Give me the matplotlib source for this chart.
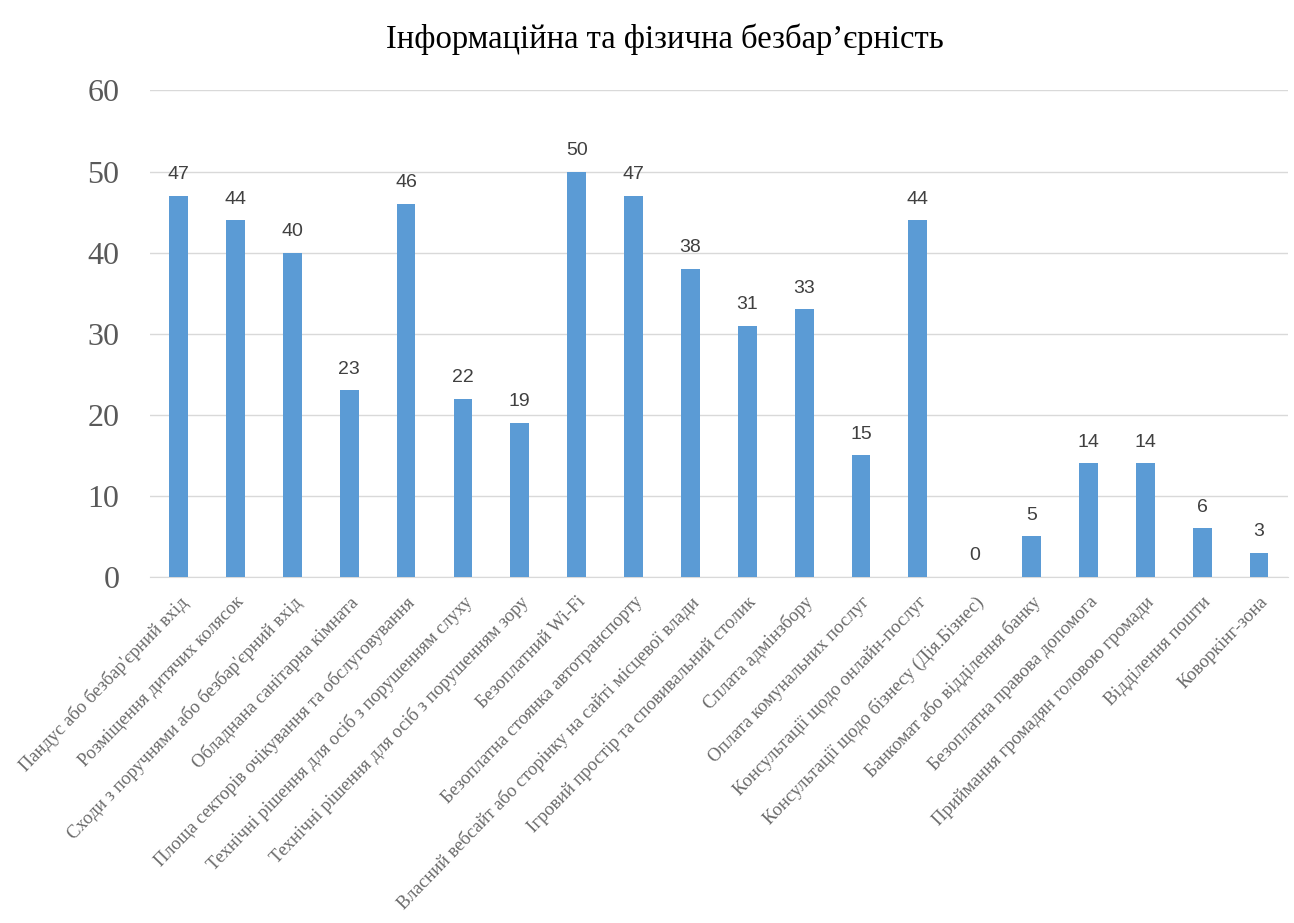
import matplotlib
matplotlib.use("Agg")
import matplotlib.pyplot as plt

categories = [
    "Пандус або безбар'єрний вхід",
    "Розміщення дитячих колясок",
    "Сходи з поручнями або безбар'єрний вхід",
    "Обладнана санітарна кімната",
    "Площа секторів очікування та обслуговування",
    "Технічні рішення для осіб з порушенням слуху",
    "Технічні рішення для осіб з порушенням зору",
    "Безоплатний Wi-Fi",
    "Безоплатна стоянка автотранспорту",
    "Власний вебсайт або сторінку на сайті місцевої влади",
    "Ігровий простір та сповивальний столик",
    "Сплата адмінзбору",
    "Оплата комунальних послуг",
    "Консультації щодо онлайн-послуг",
    "Консультації щодо бізнесу (Дія.Бізнес)",
    "Банкомат або відділення банку",
    "Безоплатна правова допомога",
    "Приймання громадян головою громади",
    "Відділення пошти",
    "Коворкінг-зона",
]
values = [47, 44, 40, 23, 46, 22, 19, 50, 47, 38, 31, 33, 15, 44, 0, 5, 14, 14, 6, 3]
y_ticks = [0, 10, 20, 30, 40, 50, 60]

bar_color = "#5B9BD5"
grey = "#595959"

fig = plt.figure(figsize=(12.94, 9.23), dpi=100)
ax = fig.add_axes([0.116, 0.375, 0.879, 0.527])

x = range(len(categories))
ax.bar(x, values, width=0.33, color=bar_color, zorder=3)

# value labels above bars
for i, v in zip(x, values):
    ax.annotate(str(v), (i, v), xytext=(0, 9), textcoords="offset points",
                ha="center", va="bottom", fontsize=14, color="#404040",
                family="Liberation Sans")

ax.set_xlim(-0.5, len(categories) - 0.5)
ax.set_ylim(0, 60)
ax.set_yticks(y_ticks)
ax.set_yticklabels([str(t) for t in y_ticks], fontsize=23, color=grey,
                   family="Liberation Serif")
ax.set_xticks(list(x))
ax.set_xticklabels(categories, rotation=46, ha="right", rotation_mode="anchor",
                   fontsize=13.3, color="#6a6a6a", family="Liberation Serif")
ax.tick_params(axis="both", length=0)
ax.tick_params(axis="y", pad=22)
ax.tick_params(axis="x", pad=12)

ax.grid(axis="y", color="#d9d9d9", linewidth=1, zorder=0)
for s in ["top", "right", "left"]:
    ax.spines[s].set_visible(False)
ax.spines["bottom"].set_color("#d9d9d9")

fig.text(0.514, 0.958, "Інформаційна та фізична безбар’єрність", ha="center",
         va="center", fontsize=23.5, family="Liberation Serif", color="black")

fig.savefig("out.png", dpi=100)
